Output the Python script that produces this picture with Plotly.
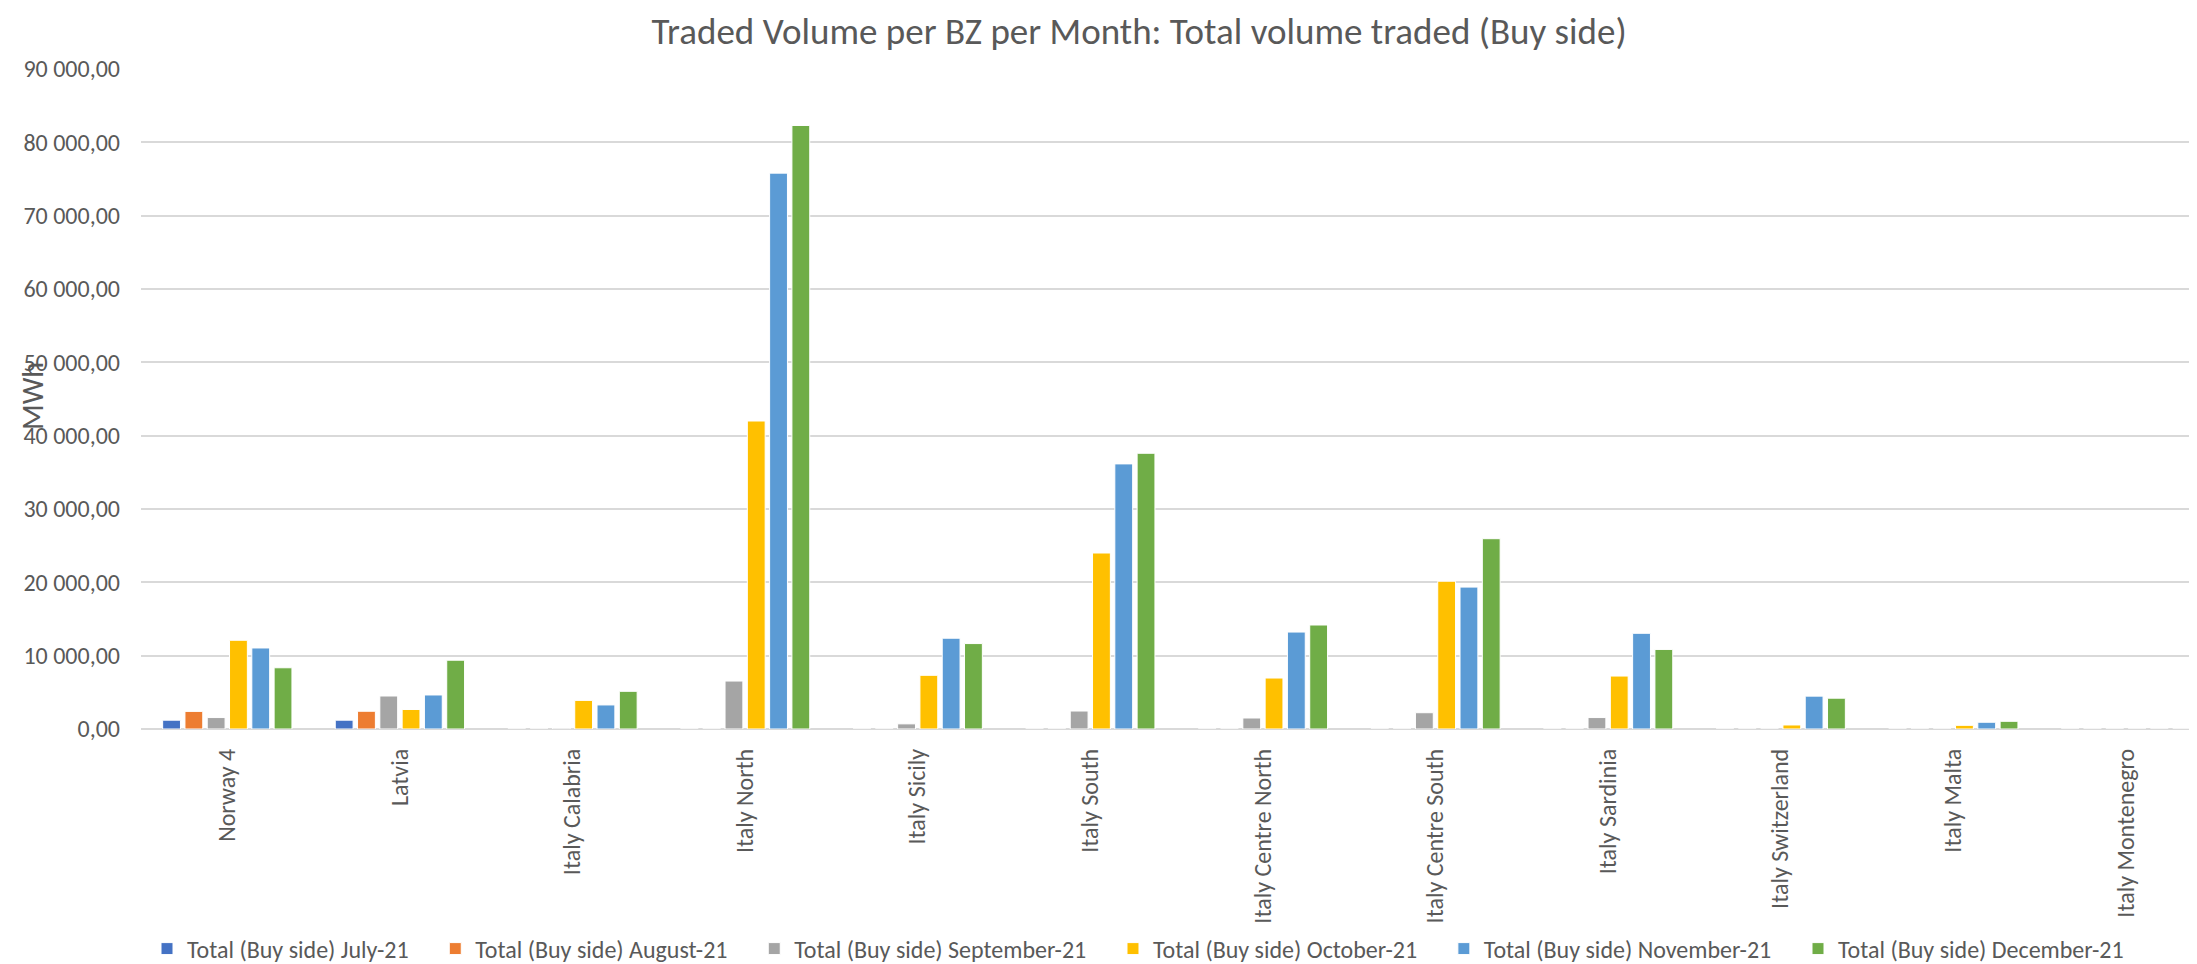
import plotly.graph_objects as go

categories = ["Norway 4", "Latvia", "Italy Calabria", "Italy North", "Italy Sicily",
              "Italy South", "Italy Centre North", "Italy Centre South", "Italy Sardinia",
              "Italy Switzerland", "Italy Malta", "Italy Montenegro"]

july = [1200, 1200, 0, 0, 0, 0, 0, 0, 0, 0, 0, 0]
august = [2400, 2420, 0, 0, 0, 0, 0, 0, 0, 0, 0, 0]
september = [1560, 4500, 120, 6540, 700, 2450, 1500, 2220, 1560, 0, 0, 0]
october = [12100, 2660, 3900, 42000, 7320, 24000, 6950, 20150, 7220, 550, 500, 0]
november = [11050, 4640, 3280, 75800, 12380, 36150, 13220, 19350, 13050, 4480, 920, 0]
december = [8350, 9380, 5140, 82300, 11650, 37600, 14180, 25950, 10850, 4200, 1050, 0]

series_names = ["Total (Buy side) July-21", "Total (Buy side) August-21",
                "Total (Buy side) September-21", "Total (Buy side) October-21",
                "Total (Buy side) November-21", "Total (Buy side) December-21"]
series_values = [july, august, september, october, november, december]
colors = ["#4472C4", "#ED7D31", "#A5A5A5", "#FFC000", "#5B9BD5", "#70AD47"]

W, H = 2197, 964
L, R, T, B = 133, 0, 61, 243
pw, ph = W - L - R, H - T - B

FONT = "Carlito, Lato, sans-serif"
GREY = "#595959"
PAD = "\u00a0" * 4

fig = go.Figure()
for name, vals, col in zip(series_names, series_values, colors):
    fig.add_trace(go.Bar(
        x=categories, y=vals, name=name + PAD,
        marker=dict(color=col, line=dict(color="white", width=1)),
    ))

fig.update_layout(
    width=W, height=H,
    margin=dict(l=L, r=R, t=T, b=B, autoexpand=False),
    paper_bgcolor="white", plot_bgcolor="white",
    barmode="group", bargap=0.225, bargroupgap=0.2,
    separators=", ",
    font=dict(family=FONT, color=GREY, size=24),
    title=dict(text="Traded Volume per BZ per Month: Total volume traded (Buy side)",
               x=1131 / W, xanchor="center", y=1 - 23 / H, yanchor="middle",
               font=dict(family=FONT, size=37, color=GREY)),
    showlegend=True,
    legend=dict(orientation="h", xref="container", yref="container",
                x=139 / W, xanchor="left", y=(H - 941) / H, yanchor="middle",
                font=dict(family=FONT, size=24, color=GREY),
                itemwidth=30, traceorder="normal"),
    xaxis=dict(range=[-0.5, -0.5 + pw / 172.6], showgrid=False, showline=False,
               zeroline=False, tickangle=-90, ticks="", ticklabelstandoff=14,
               tickfont=dict(family=FONT, size=24, color=GREY), fixedrange=True),
    yaxis=dict(range=[0, 90000], dtick=10000, tickformat=",.2f",
               showgrid=True, gridcolor="#D9D9D9", gridwidth=1.5,
               zeroline=True, zerolinecolor="#D9D9D9", zerolinewidth=1.5,
               showline=False, ticks="", ticklabelstandoff=20,
               tickfont=dict(family=FONT, size=24, color=GREY)),
    annotations=[dict(text="MWh", textangle=-90, x=(24 - L) / pw, y=(H - B - 388) / ph,
                      xref="paper", yref="paper", xanchor="center", yanchor="middle",
                      showarrow=False, font=dict(family=FONT, size=30, color=GREY))],
)

fig.write_html("out.html")
